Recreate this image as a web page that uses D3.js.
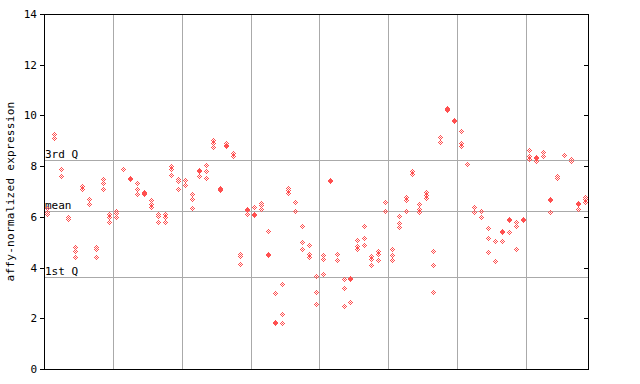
<!DOCTYPE html>
<html>
<head>
<meta charset="utf-8">
<script src="https://cdn.jsdelivr.net/npm/d3@7"></script>
<style>
  body { margin: 0; background: #fff; }
  text { font-family: "DejaVu Sans Mono", "Liberation Mono", monospace; }
</style>
</head>
<body>
<svg id="chart"></svg>
<script>
// one column per sample, up to three probe values per sample
const probe1 = [6.35, 9.25, 7.9, 6.0, 4.8, 7.2, 6.7, 4.8, 7.5, 6.1,
  6.25, 7.9, 7.55, 7.35, 7.0, 6.65, 6.1, 6.1, 8.0, 7.5,
  7.45, 6.9, 7.85, 8.05, 9.05, 7.15, 8.9, 8.5, 4.55, 6.3,
  6.4, 6.55, 5.45, 3.0, 3.35, 7.15, 6.6, 5.65, 4.9, 3.65,
  4.5, 7.45, 4.55, 3.55, 3.6, 5.1, 5.65, 4.45, 4.65, 6.6,
  4.75, 6.05, 6.8, 7.8, 6.5, 7.0, 4.65, 9.15, 10.3, 9.8,
  9.4, 8.1, 6.4, 6.25, 5.55, 5.05, 5.45, 5.9, 5.8, 5.9,
  8.65, 8.35, 8.55, 6.7, 7.6, 8.45, 8.3, 6.55, 6.8];
const probe2 = [6.2, 9.1, 7.6, 5.9, 4.65, 7.1, 6.5, 4.75, 7.35, 6.0,
  6.15, 7.88, 7.5, 7.1, 6.92, 6.5, 6.05, 6.0, 7.9, 7.4,
  7.27, 6.7, 7.82, 7.8, 8.9, 7.05, 8.85, 8.4, 4.45, 6.27,
  6.1, 6.45, 4.55, 1.85, 2.15, 7.05, 6.25, 5.0, 4.55, 3.05,
  4.35, 7.42, 4.52, 3.2, 3.55, 4.85, 5.15, 4.35, 4.55, 6.57,
  4.5, 5.75, 6.65, 7.7, 6.3, 6.85, 4.1, 8.95, 10.27, 9.77,
  8.9, 8.07, 6.2, 6.0, 5.15, 4.25, 5.42, 5.87, 5.65, 5.87,
  8.4, 8.32, 8.4, 6.67, 7.55, 8.42, 8.2, 6.52, 6.7];
const probe3 = [6.1, null, null, null, 4.4, null, null, 4.4, 7.1, 5.8,
  6.0, null, null, 6.9, 6.95, 6.4, 5.8, 5.8, 7.65, 7.1,
  7.25, 6.35, 7.6, 7.55, 8.75, 7.1, 8.8, null, 4.15, 6.1,
  6.07, 6.3, 4.5, 1.8, 1.8, 6.95, null, 4.75, 4.4, 2.55,
  3.75, null, 4.3, 2.5, 2.65, 4.75, 4.9, 4.1, 4.3, 6.25,
  4.3, 5.6, 6.25, null, 6.2, 6.75, 3.05, null, 10.2, null,
  8.8, null, null, null, 4.6, null, 5.05, 5.4, 4.75, null,
  8.3, 8.2, null, 6.2, null, null, null, 6.3, 6.6];

const statLabels = ["3rd Q", "mean", "1st Q"];
const statValues = [8.23, 6.23, 3.63];
const yTicks = [0, 2, 4, 6, 8, 10, 12, 14];
const gridSteps = [10, 20, 30, 40, 50, 60, 70];

const margin = { top: 14, right: 52, bottom: 15, left: 44 };
const W = 640, H = 384;
const width = W - margin.left - margin.right;
const height = H - margin.top - margin.bottom;
const red = "#ff5050";

const svg = d3.select("#chart").attr("width", W).attr("height", H);

// checker fill, shifts with each marker so overlapping markers fill in
const defs = svg.append("defs");
const pat = defs.append("pattern")
  .attr("id", "chk")
  .attr("patternUnits", "userSpaceOnUse")
  .attr("width", 2).attr("height", 2);
pat.append("rect").attr("x", 0).attr("y", 0).attr("width", 1).attr("height", 1).attr("fill", red);
pat.append("rect").attr("x", 1).attr("y", 1).attr("width", 1).attr("height", 1).attr("fill", red);

const g = svg.append("g").attr("transform", `translate(${margin.left},${margin.top})`);

const nSamples = probe1.length;
const x = d3.scaleLinear().domain([0, nSamples]).range([0, width]);
const y = d3.scaleLinear().domain([0, 14]).range([height, 0]);

// vertical grid
g.append("g")
  .attr("transform", `translate(0,${height})`)
  .call(d3.axisBottom(x).tickValues(gridSteps).tickSize(-height).tickFormat(""))
  .call(s => s.select(".domain").remove())
  .call(s => s.selectAll("line").attr("stroke", "#aaa").attr("shape-rendering", "crispEdges"));

// quartile / mean lines
g.append("g")
  .call(d3.axisLeft(y).tickValues(statValues).tickSize(-width).tickFormat(""))
  .call(s => s.select(".domain").remove())
  .call(s => s.selectAll("line").attr("stroke", "#aaa").attr("shape-rendering", "crispEdges"));

g.selectAll(".stat-label")
  .data(statLabels)
  .join("text")
  .attr("class", "stat-label")
  .attr("x", 1)
  .attr("y", (d, i) => Math.round(y(statValues[i])) - 2)
  .attr("font-size", 11)
  .attr("fill", "#000")
  .text(d => d);

// points
const points = [];
[probe1, probe2, probe3].forEach(arr => {
  arr.forEach((v, i) => { if (v != null) points.push({ i, v }); });
});

g.selectAll(".pt")
  .data(points)
  .join("g")
  .attr("class", "pt")
  .attr("transform", d => `translate(${Math.round(x(d.i + 0.5))},${Math.round(y(d.v))})`)
  .append("path")
  .attr("d", "M0.5,-3 L4,0.5 L0.5,4 L-3,0.5 Z")
  .attr("fill", "url(#chk)")
  .attr("shape-rendering", "crispEdges");

// frame
g.append("rect")
  .attr("x", 0).attr("y", 0)
  .attr("width", width).attr("height", height)
  .attr("fill", "none").attr("stroke", "#000")
  .attr("shape-rendering", "crispEdges");

// left axis
g.append("g")
  .call(d3.axisLeft(y).tickValues(yTicks).tickSize(4).tickPadding(3))
  .call(s => s.select(".domain").attr("stroke", "#000"))
  .call(s => s.selectAll("text").attr("font-size", 11).attr("font-family", "DejaVu Sans Mono"))
  .call(s => s.selectAll("line, path").attr("shape-rendering", "crispEdges"));

// right ticks, pointing inward
g.append("g")
  .attr("transform", `translate(${width},0)`)
  .call(d3.axisLeft(y).tickValues(yTicks).tickSize(4).tickFormat(""))
  .call(s => s.select(".domain").remove())
  .call(s => s.selectAll("line").attr("shape-rendering", "crispEdges"));

svg.append("text")
  .attr("transform", `translate(14,${margin.top + height / 2}) rotate(-90)`)
  .attr("text-anchor", "middle")
  .attr("font-size", 11)
  .attr("letter-spacing", 0.3)
  .text("affy-normalized expression");
</script>
</body>
</html>
